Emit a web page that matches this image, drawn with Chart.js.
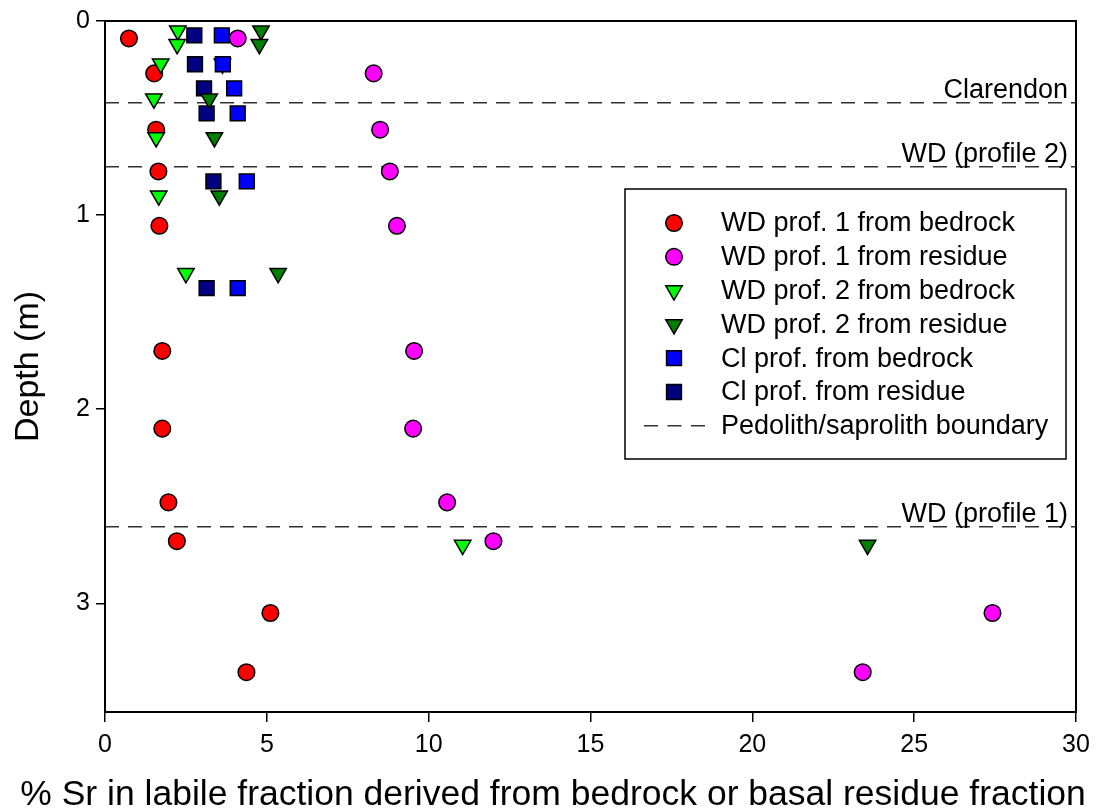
<!DOCTYPE html>
<html lang="en">
<head>
<meta charset="UTF-8">
<title>Sr in labile fraction vs depth</title>
<script src="https://cdn.jsdelivr.net/npm/chart.js"></script>
<style>
  html, body { margin: 0; padding: 0; background: #fff; }
  #wrap { width: 1098px; height: 810px; }
</style>
</head>
<body>
<div id="wrap"><canvas id="srChart" width="1098" height="810"></canvas></div>
<script>
// WD profile 1 (depth in m, % Sr)
const wdProf1Depth   = [0.09, 0.27, 0.56, 0.775, 1.055, 1.70, 2.10, 2.48, 2.68, 3.05, 3.355];
const wdProf1Bedrock = [0.74, 1.52, 1.58, 1.65, 1.68, 1.77, 1.77, 1.96, 2.22, 5.11, 4.37];
const wdProf1Residue = [4.10, 8.30, 8.50, 8.80, 9.02, 9.55, 9.52, 10.57, 12.0, 27.42, 23.41];

// WD profile 2
const wdProf2Depth   = [0.05, 0.12, 0.22, 0.40, 0.60, 0.90, 1.30, 2.70];
const wdProf2Bedrock = [2.25, 2.23, 1.72, 1.51, 1.58, 1.66, 2.50, 11.05];
const wdProf2Residue = [4.82, 4.77, 3.63, 3.22, 3.38, 3.53, 5.35, 23.56];

// Clarendon profile
const clDepth   = [0.074, 0.223, 0.347, 0.476, 0.826, 1.376];
const clBedrock = [3.61, 3.64, 3.99, 4.10, 4.38, 4.10];
const clResidue = [2.76, 2.78, 3.06, 3.14, 3.35, 3.14];

// pedolith/saprolith boundaries
const boundaryNames = ['Clarendon', 'WD (profile 2)', 'WD (profile 1)'];
const boundaryDepth = [0.421, 0.751, 2.605];

const xTicks = [0, 5, 10, 15, 20, 25, 30];
const yTicks = [0, 1, 2, 3];
const xTitle = '% Sr in labile fraction derived from bedrock or basal residue fraction';

const FONT = "'Liberation Sans', Arial, sans-serif";

function pts(xs, ys) {
    return xs.map((x, i) => ({ x: x, y: ys[i] }));
}

function marker(label, xs, ys, style, color, order) {
    const tri = style === 'triangle';
    return {
        label: label,
        data: pts(xs, ys),
        pointStyle: style,
        rotation: tri ? 180 : 0,
        pointRadius: tri ? 9.5 : (style === 'rect' ? 10.5 : 8.3),
        pointBackgroundColor: color,
        pointBorderColor: '#000',
        pointBorderWidth: 1.5,
        showLine: false,
        order: order
    };
}

// one line dataset, segments split by empty points
const boundaryData = [];
boundaryDepth.forEach(d => {
    boundaryData.push({ x: xTicks[0], y: d }, { x: xTicks[xTicks.length - 1], y: d }, { x: null, y: null });
});

const datasets = [
    marker('WD prof. 1 from bedrock', wdProf1Bedrock, wdProf1Depth, 'circle', '#FF0000', 5),
    marker('WD prof. 1 from residue', wdProf1Residue, wdProf1Depth, 'circle', '#FF00FF', 0),
    marker('WD prof. 2 from bedrock', wdProf2Bedrock, wdProf2Depth, 'triangle', '#00FF00', 4),
    marker('WD prof. 2 from residue', wdProf2Residue, wdProf2Depth, 'triangle', '#008000', 2),
    marker('Cl prof. from bedrock', clBedrock, clDepth, 'rect', '#0000FF', 1),
    marker('Cl prof. from residue', clResidue, clDepth, 'rect', '#000080', 3),
    {
        label: 'Pedolith/saprolith boundary',
        data: boundaryData,
        showLine: true,
        spanGaps: false,
        borderColor: '#333',
        borderWidth: 1.5,
        borderDash: [14, 9],
        pointRadius: 0,
        order: 10
    }
];

// frame, x title (wider than the axis), boundary names, boxed legend
const extras = {
    id: 'extras',
    afterDraw(chart) {
        const ctx = chart.ctx;
        const a = chart.chartArea;
        const ys = chart.scales.y;
        ctx.save();

        ctx.strokeStyle = '#000';
        ctx.lineWidth = 2;
        ctx.strokeRect(a.left, a.top, a.right - a.left, a.bottom - a.top);

        ctx.fillStyle = '#000';
        ctx.font = '35.5px ' + FONT;
        ctx.textAlign = 'center';
        ctx.textBaseline = 'middle';
        ctx.fillText(xTitle, chart.width / 2 + 4, chart.height - 15);

        ctx.font = '27px ' + FONT;
        ctx.textAlign = 'right';
        ctx.textBaseline = 'alphabetic';
        boundaryNames.forEach((name, i) => {
            ctx.fillText(name, a.right - 8, ys.getPixelForValue(boundaryDepth[i]) - 5);
        });

        // legend box
        const bx = a.left + 520, by = a.top + 168, bw = 441, bh = 270;
        ctx.lineWidth = 1.5;
        ctx.strokeRect(bx, by, bw, bh);
        ctx.textAlign = 'left';
        ctx.textBaseline = 'middle';
        chart.data.datasets.forEach((ds, i) => {
            const ry = by + 34 + i * 33.8;
            const mx = bx + 49;
            if (ds.showLine) {
                ctx.strokeStyle = ds.borderColor;
                ctx.lineWidth = ds.borderWidth;
                ctx.setLineDash([14, 9.5]);
                ctx.beginPath();
                ctx.moveTo(bx + 19, ry);
                ctx.lineTo(bx + 80, ry);
                ctx.stroke();
                ctx.setLineDash([]);
            } else {
                ctx.fillStyle = ds.pointBackgroundColor;
                ctx.strokeStyle = ds.pointBorderColor;
                ctx.lineWidth = ds.pointBorderWidth;
                Chart.helpers.drawPoint(ctx, {
                    pointStyle: ds.pointStyle,
                    radius: ds.pointRadius,
                    rotation: ds.rotation,
                    borderWidth: ds.pointBorderWidth
                }, mx, ry);
            }
            ctx.fillStyle = '#000';
            ctx.fillText(ds.label, bx + 96, ry + 1);
        });
        ctx.restore();
    }
};

new Chart(document.getElementById('srChart'), {
    type: 'scatter',
    data: { datasets: datasets },
    options: {
        responsive: false,
        animation: false,
        devicePixelRatio: 1,
        layout: { padding: { top: 21, right: 22, left: 0, bottom: 0 } },
        plugins: {
            legend: { display: false },
            tooltip: { enabled: false }
        },
        scales: {
            x: {
                type: 'linear',
                min: xTicks[0],
                max: xTicks[xTicks.length - 1],
                afterFit: s => { s.height = 98; },
                afterBuildTicks: s => { s.ticks = xTicks.map(v => ({ value: v })); },
                ticks: { color: '#000', padding: 8, maxRotation: 0, font: { size: 25, family: FONT } },
                grid: { drawOnChartArea: false, drawTicks: true, tickLength: 10, color: '#000', lineWidth: 1.5 },
                border: { display: true, color: '#000', width: 2 },
                title: { display: false }
            },
            y: {
                type: 'linear',
                reverse: true,
                min: 0,
                max: 3.56,
                afterFit: s => { s.width = 105; },
                afterBuildTicks: s => { s.ticks = yTicks.map(v => ({ value: v })); },
                ticks: { color: '#000', padding: 6, font: { size: 25, family: FONT } },
                grid: { drawOnChartArea: false, drawTicks: true, tickLength: 9, color: '#000', lineWidth: 1.5 },
                border: { display: true, color: '#000', width: 2 },
                title: {
                    display: true,
                    text: 'Depth (m)',
                    color: '#000',
                    font: { size: 34, family: FONT, lineHeight: 1 },
                    padding: { top: 12, bottom: 0 }
                }
            }
        }
    },
    plugins: [extras]
});
</script>
</body>
</html>
